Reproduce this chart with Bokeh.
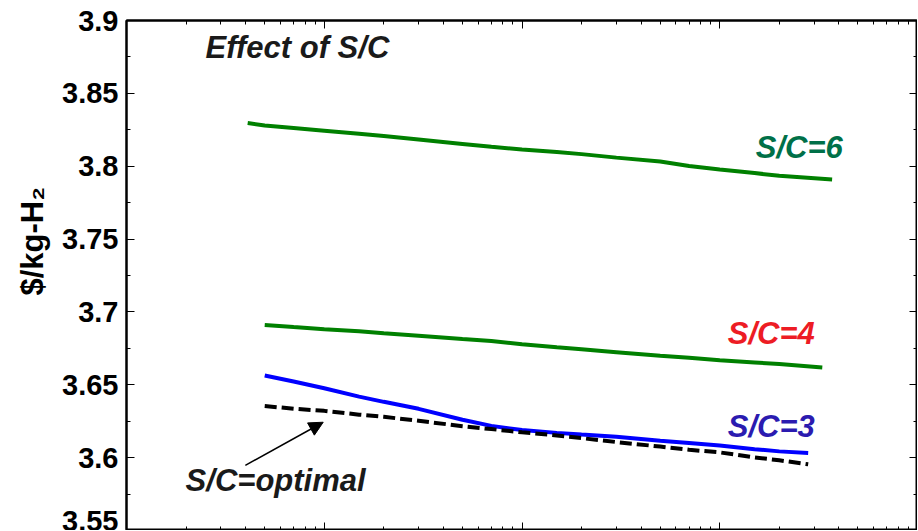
from bokeh.plotting import figure
from bokeh.models import (FixedTicker, LogAxis, LinearAxis, Label, Arrow, NormalHead,
                          CustomJSTickFormatter, Range1d, LogTicker, Title)
from bokeh.embed import file_html
from bokeh.resources import INLINE

# ---------------- data ----------------
x_grid = [5, 7, 10, 15, 20, 30, 50, 70, 100, 150, 200, 300, 500, 700, 1000, 1500, 2000]

sc6_x = [4.1] + x_grid + [3700]
sc6_y = [3.8296, 3.8279, 3.8262, 3.8244, 3.8223, 3.8207, 3.8183, 3.8153, 3.8133, 3.8114,
         3.8097, 3.8083, 3.8059, 3.8032, 3.8001, 3.7977, 3.7953, 3.7934, 3.7909]

sc4_x = x_grid + [3300]
sc4_y = [3.6911, 3.6896, 3.6881, 3.6868, 3.6854, 3.6837, 3.6815, 3.6801, 3.6778, 3.6758,
         3.6744, 3.6724, 3.6699, 3.6685, 3.6668, 3.6653, 3.6642, 3.6618]

sc3_x = x_grid + [2800]
sc3_y = [3.6564, 3.6523, 3.6476, 3.6419, 3.6383, 3.6335, 3.6260, 3.6218, 3.6189, 3.6170,
         3.6159, 3.6144, 3.6116, 3.6100, 3.6083, 3.6058, 3.6043, 3.6032]

opt_x = x_grid + [2800]
opt_y = [3.6354, 3.6336, 3.6321, 3.6295, 3.6280, 3.6253, 3.6216, 3.6196, 3.6174, 3.6152,
         3.6134, 3.6107, 3.6076, 3.6054, 3.6036, 3.6002, 3.5982, 3.5954]

y_ticks = [3.55, 3.6, 3.65, 3.7, 3.75, 3.8, 3.85, 3.9]
y_minor = [3.575, 3.625, 3.675, 3.725, 3.775, 3.825, 3.875]

y_label = "$/kg-H\u2082"
title_text = "Effect of S/C"
labels = ["S/C=6", "S/C=4", "S/C=3", "S/C=optimal"]

# ---------------- figure ----------------
FONT = "Liberation Sans"

p = figure(x_axis_type="log", x_range=Range1d(1, 1e4), y_range=Range1d(3.55, 3.9),
           frame_width=791, frame_height=510,
           min_border_left=126, min_border_top=20, min_border_right=0, min_border_bottom=0,
           output_backend="svg", toolbar_location=None)
p.xgrid.visible = False
p.ygrid.visible = False
p.outline_line_color = "black"
p.outline_line_width = 2
p.background_fill_color = "white"
p.border_fill_color = "white"

yfmt = CustomJSTickFormatter(code="return parseFloat(tick.toFixed(2)).toString();")
blank = CustomJSTickFormatter(code="return '';")
yt = FixedTicker(ticks=y_ticks, minor_ticks=y_minor)

def style_axis(ax, show_labels=False):
    ax.axis_line_color = "black"
    ax.axis_line_width = 2
    ax.major_tick_in = 8
    ax.major_tick_out = 0
    ax.minor_tick_in = 4
    ax.minor_tick_out = 0
    ax.major_tick_line_color = "black"
    ax.minor_tick_line_color = "black"
    ax.major_tick_line_width = 1
    ax.minor_tick_line_width = 1
    if not show_labels:
        ax.formatter = blank
        ax.major_label_text_font_size = "1px"
        ax.major_label_text_color = None
        ax.major_label_standoff = 0

# left y axis
ya = p.yaxis[0]
ya.ticker = yt
ya.formatter = yfmt
style_axis(ya, show_labels=True)
ya.major_label_text_font = FONT
ya.major_label_text_font_style = "bold"
ya.major_label_text_font_size = "29px"
ya.major_label_text_color = "black"
ya.major_label_standoff = 8

# y-axis title as a side title so it can sit off-centre like the reference
p.add_layout(Title(text=y_label, align="left", offset=235, standoff=20,
                   text_font=FONT, text_font_style="bold", text_font_size="31px",
                   text_color="black"), "left")

# bottom x axis (labels are cut off in the reference)
xa = p.xaxis[0]
xa.ticker = LogTicker(num_minor_ticks=10)
style_axis(xa)

# top and right mirror axes
top = LogAxis(ticker=LogTicker(num_minor_ticks=10))
style_axis(top)
p.add_layout(top, "above")
right = LinearAxis(ticker=FixedTicker(ticks=y_ticks, minor_ticks=y_minor))
style_axis(right)
p.add_layout(right, "right")

# ---------------- lines ----------------
p.line(sc6_x, sc6_y, line_color="#008000", line_width=4)
p.line(sc4_x, sc4_y, line_color="#008000", line_width=4)
p.line(sc3_x, sc3_y, line_color="#0000FF", line_width=4)
p.line(opt_x, opt_y, line_color="black", line_width=4, line_dash="12 5")

# ---------------- annotations ----------------
def lab(x, y, t, color):
    p.add_layout(Label(x=x, y=y, text=t, text_color=color, text_font=FONT,
                       text_font_style="bold italic", text_font_size="31px",
                       text_baseline="alphabetic", text_align="left"))

lab(2.51, 3.8818, title_text, "#1a1a1a")
lab(1520, 3.8129, labels[0], "#007048")
lab(1098, 3.6854, labels[1], "#ED1C24")
lab(1098, 3.6213, labels[2], "#2B1BB0")
lab(1.99, 3.5845, labels[3], "#1a1a1a")

p.add_layout(Arrow(x_start=3.99, y_start=3.5947, x_end=9.88, y_end=3.6243,
                   line_color="black", line_width=1.5,
                   end=NormalHead(size=14, fill_color="black", line_color="black")))

open("out.html", "w").write(file_html(p, INLINE))
